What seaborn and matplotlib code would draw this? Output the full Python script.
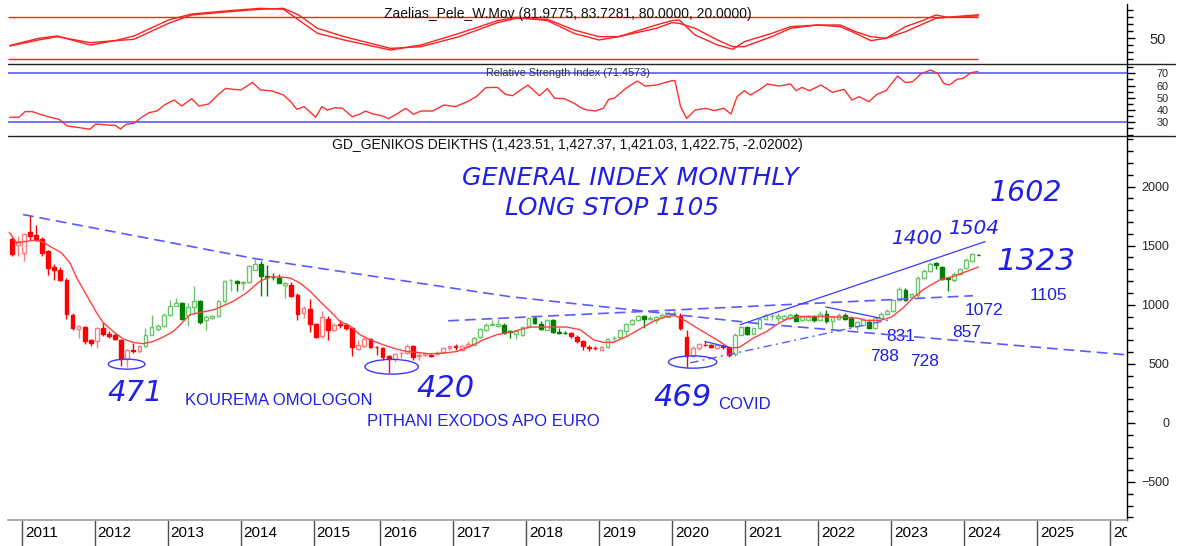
#!/usr/bin/env python3
# -*- coding: utf-8 -*-
"""
ATHEX General Index - monthly candles with oscillator, RSI and hand-drawn trend lines
"""

import numpy as np
import pandas as pd
import matplotlib
matplotlib.use('Agg')
import matplotlib.pyplot as plt
import matplotlib.transforms as mtransforms
from matplotlib.patches import Ellipse
from matplotlib.lines import Line2D
import seaborn as sns

# ---- monthly bars, index 0 = Nov 2010 (no July 2015 bar, exchange was closed) ----
OPEN = [1557, 1508, 1438, 1613, 1593, 1556, 1458, 1319, 1291, 1212, 915, 794, 811, 700, 689, 800,
        754, 745, 703, 540, 615, 605, 647, 745, 795, 820, 915, 992, 1014, 915, 980, 1028,
        867, 887, 907, 1028, 1205, 1203, 1180, 1189, 1297, 1348, 1240, 1236, 1226, 1165, 1170, 1085,
        930, 963, 839, 732, 881, 783, 840, 831, 802, 625, 653, 709, 645, 633, 562, 540,
        590, 590, 653, 570, 575, 575, 585, 596, 630, 650, 620, 650, 661, 726, 790, 832,
        820, 831, 775, 755, 744, 810, 887, 840, 788, 867, 770, 762, 760, 730, 690, 640,
        636, 615, 640, 715, 726, 777, 836, 870, 905, 878, 867, 895, 900, 930, 907, 725,
        562, 630, 660, 660, 635, 650, 633, 584, 746, 815, 754, 802, 879, 905, 890, 880,
        890, 916, 870, 868, 900, 872, 922, 860, 880, 916, 890, 816, 830, 855, 800, 890,
        925, 950, 1040, 1127, 1065, 1085, 1226, 1282, 1350, 1319, 1225, 1206, 1263, 1311, 1367, 1423.51]
HIGH = [1574, 1579, 1608, 1763, 1678, 1570, 1465, 1345, 1320, 1230, 929, 830, 820, 710, 810, 850,
        775, 760, 710, 625, 675, 660, 802, 915, 835, 930, 1042, 1056, 1020, 1014, 1161, 1042,
        915, 915, 1042, 1212, 1215, 1212, 1198, 1339, 1387, 1367, 1339, 1268, 1257, 1190, 1189, 1099,
        986, 1048, 845, 944, 901, 845, 873, 845, 811, 704, 732, 715, 650, 641, 576, 590,
        604, 669, 661, 590, 590, 585, 605, 640, 661, 665, 661, 690, 726, 800, 845, 870,
        875, 845, 787, 790, 820, 895, 905, 860, 877, 877, 800, 775, 768, 746, 703, 657,
        650, 653, 718, 735, 788, 845, 879, 915, 915, 901, 901, 929, 944, 960, 929, 790,
        650, 680, 690, 665, 665, 665, 648, 760, 820, 820, 810, 887, 922, 922, 930, 915,
        930, 930, 908, 910, 916, 950, 957, 900, 930, 930, 901, 860, 875, 880, 895, 935,
        960, 1050, 1150, 1140, 1100, 1240, 1300, 1360, 1360, 1330, 1235, 1275, 1310, 1395, 1440, 1427.37]
LOW = [1410, 1410, 1367, 1551, 1540, 1410, 1254, 1212, 1198, 879, 782, 718, 670, 650, 633, 731,
       718, 700, 483, 471, 590, 595, 640, 740, 780, 815, 905, 985, 867, 816, 929, 839,
       788, 879, 896, 1014, 1113, 1113, 1127, 1184, 1290, 1071, 1071, 1212, 1180, 1058, 1065, 867,
       884, 765, 717, 717, 704, 775, 802, 790, 568, 618, 645, 630, 576, 534, 420, 511,
       550, 585, 534, 534, 565, 560, 575, 590, 620, 620, 610, 640, 655, 718, 775, 825,
       812, 750, 721, 710, 735, 800, 840, 788, 783, 760, 755, 755, 718, 680, 613, 605,
       615, 605, 630, 700, 710, 732, 830, 865, 803, 873, 845, 890, 895, 925, 790, 469,
       555, 620, 650, 630, 628, 625, 557, 570, 740, 745, 750, 795, 870, 870, 850, 870,
       880, 860, 860, 865, 855, 860, 845, 797, 870, 870, 810, 788, 820, 795, 795, 885,
       915, 940, 1030, 1030, 1050, 1060, 1215, 1275, 1300, 1205, 1113, 1195, 1255, 1300, 1360, 1421.03]
CLOSE = [1432, 1536, 1600, 1579, 1551, 1441, 1308, 1291, 1212, 918, 802, 822, 689, 680, 802, 754,
         735, 712, 537, 613, 605, 653, 745, 811, 822, 915, 992, 1014, 879, 980, 1028, 850,
         896, 907, 1028, 1198, 1212, 1184, 1189, 1331, 1348, 1240, 1235, 1232, 1184, 1180, 1071, 924,
         972, 839, 726, 893, 788, 831, 830, 802, 641, 661, 709, 641, 641, 557, 540, 585,
         592, 653, 557, 575, 580, 568, 595, 630, 650, 640, 650, 669, 718, 794, 831, 838,
         840, 760, 770, 775, 810, 887, 845, 794, 867, 766, 762, 758, 731, 690, 647, 635,
         633, 640, 710, 720, 783, 839, 873, 905, 878, 890, 895, 915, 930, 933, 803, 562,
         633, 665, 655, 640, 655, 640, 576, 746, 815, 754, 802, 879, 914, 908, 905, 905,
         916, 865, 900, 900, 868, 922, 865, 893, 916, 880, 816, 857, 870, 800, 890, 925,
         950, 1037, 1133, 1042, 1093, 1226, 1282, 1348, 1340, 1220, 1215, 1263, 1302, 1381, 1432, 1422.75]

# bar ranges that the chart paints green (price above its average), the rest are red
UP_TREND = [(22, 45), (76, 91), (98, 109), (119, 159)]

# red moving average on the price panel
MA_X = [-0.4, 0.8, 2.5, 3.6, 4.9, 6.3, 8.2, 9.6, 10.7, 11.8, 12.9, 14, 15.1, 16.7, 18.4, 20, 21.6,
        23.3, 24.9, 26.6, 28, 29.3, 31, 33.2, 34.3, 36.4, 38.6, 40.8, 42.5, 44.1, 45.8, 47.4, 49.1,
        50.7, 52.4, 54, 55.6, 57.3, 58.9, 61.1, 63.3, 65, 66.6, 68.8, 71, 73.2, 75.4, 77.6, 79.8,
        82.5, 85.2, 88.5, 91.3, 93.5, 95.7, 97.3, 98.9, 101.2, 103.3, 105.5, 107.7, 109.1, 111,
        113.2, 116, 118.1, 119.7, 122, 124.2, 125.8, 127.5, 129.7, 133.5, 136.2, 139, 140.6,
        142.8, 144.7, 146.6, 148.2, 149.9, 151.3, 152.7, 154.9, 157.1, 159]
MA_Y = [1613, 1523, 1537, 1545, 1537, 1494, 1438, 1353, 1226, 1127, 1028, 929, 845, 774, 709, 681, 670,
        689, 726, 774, 845, 915, 935, 957, 980, 1028, 1099, 1198, 1235, 1235, 1226, 1184, 1113,
        1028, 944, 859, 822, 746, 704, 661, 624, 604, 596, 585, 590, 604, 647, 704, 746,
        774, 811, 811, 811, 788, 703, 681, 681, 732, 794, 859, 901, 907, 859,
        788, 703, 632, 640, 718, 774, 831, 879, 901, 901, 895, 887, 867,
        867, 895, 972, 1056, 1127, 1170, 1212, 1240, 1282, 1319]

# Zaelias_Pele_W.Mov oscillator (two lines)
OSC_X = [-0.3, 4.4, 7.5, 12.9, 17, 20.1, 25.8, 29.6, 35.8, 40.9, 44.7, 47.2, 50.3, 54.7, 62.3, 67.3,
         73.6, 79.9, 83, 88.1, 92.5, 96.6, 99.8, 106, 108.6, 109.8, 112.4, 116.1, 118.6, 120.5, 125,
         128.1, 132.5, 136.3, 138.8, 141.3, 143.8, 147, 150.1, 152, 153.9, 159]
OSC_FAST = [39.4, 49.7, 53.1, 40.1, 46.4, 53.1, 76.1, 84.7, 89.5, 92.9, 91.5, 76.1, 56.9, 47.3, 32.9, 40.1,
            56.9, 75.2, 80, 75.2, 56.9, 47.3, 52.1, 68.9, 75.2, 76.1, 54.5, 40.1, 33.9, 44.9, 56.9,
            66.5, 68.9, 66.5, 56.9, 46.4, 49.7, 66.5, 76.1, 83.3, 80, 83.7]
OSC_SLOW = [38.7, 47.3, 52.1, 43.5, 46.4, 48.3, 71.3, 83.3, 88.1, 91.5, 92.9, 83.3, 64.1, 52.1, 35.3, 37.7,
            52.1, 72.3, 78.5, 77.1, 61.7, 52.1, 52.1, 64.1, 72.3, 71.3, 64.1, 47.3, 37.7, 37.7, 52.1,
            64.1, 68.9, 68.9, 59.3, 52.1, 49.7, 59.3, 71.3, 78.5, 80, 82.0]

# Relative Strength Index
RSI_X = [-0.35, 1.2, 2.2, 3.4, 5.0, 6.3, 7.8, 9.1, 10.7, 12.9, 13.8, 15.7, 17, 17.9, 18.8, 20.1, 21.4,
         22.6, 23.9, 25.1, 26.7, 28, 29.6, 30.8, 32.4, 33.9, 35.2, 36.5, 37.7, 39.6, 40.9, 42.8, 44.7,
         45.9, 46.9, 48.1, 50, 51, 51.9, 53.2, 54.4, 56, 57.2, 58.2, 59.4, 61, 62, 63.5, 64.8, 66.1,
         67.3, 69.2, 71.1, 73, 74.9, 76.4, 78, 79.9, 81.2, 82.4, 83.7, 84.9, 86.8, 88.1, 89.3, 90.9,
         92.5, 93.8, 94.7, 96, 97.3, 98.2, 99.1, 101, 102.9, 104.2, 106, 108.6, 109.1, 110, 111,
         112.4, 114.2, 115.5, 117.1, 118.3, 119.3, 120.5, 121.5, 123.1, 124.3, 126.2, 128.1, 129,
         130, 131.2, 133.1, 135, 136.9, 138.2, 139.4, 141, 142.3, 143.8, 145.7, 147, 148.2, 149.5,
         151.1, 152.3, 153.3, 154.2, 155.5, 156.5, 157.8, 158.9]
RSI_Y = [34.1, 34.1, 38.7, 38.7, 36.0, 34.1, 32.4, 27.0, 25.9, 24.3, 28.6, 27.8, 27.5, 24.5, 28.3, 29.2, 34.1,
         37.9, 39.2, 44.1, 48.2, 43.3, 49.3, 43.3, 44.9, 52.3, 57.7, 56.9, 56.4, 62.6, 56.4, 55.6, 52.3,
         46.8, 40.6, 42.8, 34.1, 42.8, 40.0, 41.9, 41.4, 34.6, 36.5, 39.2, 36.8, 35.1, 33.0, 37.3, 41.4, 36.5,
         39.2, 39.2, 44.1, 42.8, 46.8, 50.9, 58.3, 58.5, 52.8, 51.7, 56.4, 60.4, 51.7, 57.5, 49.6, 49.3,
         45.5, 41.4, 40.0, 39.2, 41.4, 48.8, 49.6, 57.7, 63.7, 59.6, 60.4, 64.0, 64.0, 43.0, 33.2,
         40.0, 41.4, 39.5, 41.4, 36.8, 50.9, 55.8, 52.3, 56.9, 61.3, 59.6, 61.3, 55.8,
         58.5, 55.8, 60.4, 54.5, 56.9, 48.2, 50.9, 46.8, 52.8, 55.8, 67.8, 62.4, 63.2, 69.4,
         72.7, 70.0, 61.8, 60.4, 65.1, 65.9, 70.5, 71.5]

# hand-drawn lines on the price panel
DOWN_X = [1.86, 40, 81.95, 123.1, 183.4]
DOWN_Y = [1763, 1390, 1068, 839, 576]
FLAT_X = [71.8, 158.1]
FLAT_Y = [864, 1076]
RISE_X = [119.8, 160.1]
RISE_Y = [831, 1534]
DASHDOT_X = [111.6, 144.4]
DASHDOT_Y = [508, 873]
WEDGE20_X = [114, 118.4]
WEDGE20_Y = [689, 633]
WEDGE22_X = [133.9, 142.8]
WEDGE22_Y = [981, 887]

YEAR_LABELS = ['2011', '2012', '2013', '2014', '2015', '2016', '2017', '2018', '2019',
               '2020', '2021', '2022', '2023', '2024', '2025', '2026']
YEAR_START = [2, 14, 26, 38, 50, 61, 73, 85, 97, 109, 121, 133, 145, 157, 169, 181]

BLUE = '#1f1fe8'
LINE_BLUE = '#5a5aff'

sns.set_theme(style='white')
plt.rcParams['font.family'] = ['Liberation Sans', 'DejaVu Sans']
HAND = dict(family=['DejaVu Sans'], style='oblique', weight='normal', color=BLUE)

W, H = 1180, 546
fig = plt.figure(figsize=(W / 100, H / 100), dpi=100)
fig.patch.set_facecolor('white')


def px_axes(x0, y0, x1, y1):
    return fig.add_axes([x0 / W, 1 - y1 / H, (x1 - x0) / W, (y1 - y0) / H])


ax_osc = px_axes(8, 4, 1127, 64)
ax_rsi = px_axes(8, 64, 1127, 135.5)
ax = px_axes(8, 135.5, 1127, 520)

XMIN, XMAX = -0.61, 183.44
for a in (ax_osc, ax_rsi, ax):
    a.set_xlim(XMIN, XMAX)
    a.set_facecolor('white')
    for s in ('left', 'top', 'bottom'):
        a.spines[s].set_visible(False)
    a.spines['right'].set_visible(True)
    a.spines['right'].set_color('black')
    a.spines['right'].set_linewidth(1)
    a.yaxis.tick_right()
    a.grid(False)

# ---------------- oscillator panel ----------------
ax_osc.set_ylim(12.8, 99.1)
osc = pd.DataFrame({'x': OSC_X, 'fast': OSC_FAST, 'slow': OSC_SLOW})
sns.lineplot(data=osc, x='x', y='fast', ax=ax_osc, color='#ff2020', lw=1, legend=False)
sns.lineplot(data=osc, x='x', y='slow', ax=ax_osc, color='#ff2020', lw=1, legend=False)
ax_osc.hlines([80, 20], XMIN, OSC_X[-1], color='#ff2020', lw=1)
ax_osc.set_yticks([50])
ax_osc.set_yticks(np.arange(20, 100, 10), minor=True)
ax_osc.text(0.5, 0.835, 'Zaelias_Pele_W.Mov (81.9775, 83.7281, 80.0000, 20.0000)',
            transform=ax_osc.transAxes, ha='center', va='center', fontsize=10, color='#111111')

# ---------------- RSI panel ----------------
ax_rsi.set_ylim(19.2, 77.6)
rsi = pd.DataFrame({'x': RSI_X, 'rsi': RSI_Y})
ax_rsi.axhline(70, color=LINE_BLUE, lw=1.2)
ax_rsi.axhline(30, color=LINE_BLUE, lw=1.2)
sns.lineplot(data=rsi, x='x', y='rsi', ax=ax_rsi, color='#ff3030', lw=1, legend=False)
ax_rsi.set_yticks([30, 40, 50, 60, 70])
ax_rsi.set_yticks(np.arange(20, 80, 5), minor=True)
ax_rsi.text(0.5, 0.874, 'Relative Strength Index (71.4573)', transform=ax_rsi.transAxes,
            ha='center', va='center', fontsize=7.8, color='#333333')

# ---------------- price panel ----------------
ax.set_ylim(-822, 2432)
green = np.zeros(len(CLOSE), dtype=bool)
for a0, a1 in UP_TREND:
    green[a0:a1 + 1] = True

o = np.array(OPEN, dtype=float)
c = np.array(CLOSE, dtype=float)
hi = np.array(HIGH, dtype=float)
lo = np.array(LOW, dtype=float)
xi = np.arange(len(c))
rising = c >= o
top = np.maximum(o, c)
bot = np.minimum(o, c)

for i in xi:
    if green[i]:
        col = '#6cc46c' if rising[i] else '#008000'
    else:
        col = '#ff7b7b' if rising[i] else '#ff0000'
    ax.vlines(i, lo[i], bot[i], color=col, lw=1, zorder=3)
    ax.vlines(i, top[i], hi[i], color=col, lw=1, zorder=3)
    ax.bar(i, top[i] - bot[i], bottom=bot[i], width=0.62,
           facecolor='white' if rising[i] else col, edgecolor=col, lw=1, zorder=3)

ma = pd.DataFrame({'x': MA_X, 'ma': MA_Y})
sns.lineplot(data=ma, x='x', y='ma', ax=ax, color='#ff4040', lw=1, legend=False, zorder=4)

dash = (0, (6.5, 3.5))
ax.plot(DOWN_X, DOWN_Y, color=LINE_BLUE, lw=1.2, ls=dash, zorder=5)
ax.plot(FLAT_X, FLAT_Y, color=LINE_BLUE, lw=1.2, ls=dash, zorder=5)
ax.plot(RISE_X, RISE_Y, color='#3a3aff', lw=0.9, zorder=5)
ax.plot(DASHDOT_X, DASHDOT_Y, color=LINE_BLUE, lw=1.0, ls=(0, (6, 3, 1.5, 3)), zorder=5)
ax.plot(WEDGE20_X, WEDGE20_Y, color='#3a3aff', lw=0.9, zorder=5)
ax.plot(WEDGE22_X, WEDGE22_Y, color='#3a3aff', lw=0.9, zorder=5)

for cx, cy, ew, eh in [(18.9, 497, 6.03, 85), (62.5, 475, 8.77, 125), (112, 515, 7.94, 104)]:
    ax.add_patch(Ellipse((cx, cy), ew, eh, fill=False, edgecolor='#3a3aff', lw=1, zorder=6))

ax.set_yticks(np.arange(-500, 2001, 500))
ax.set_yticks(np.arange(-800, 2401, 100), minor=True)
ax.text(0.5, 0.974, 'GD_GENIKOS DEIKTHS (1,423.51, 1,427.37, 1,421.03, 1,422.75, -2.02002)',
        transform=ax.transAxes, ha='center', va='center', fontsize=10, color='#111111')

# handwritten notes
ax.text(74.1, 2076, 'GENERAL INDEX MONTHLY', fontsize=18.2, ha='left', va='center', **HAND)
ax.text(81.1, 1822, 'LONG STOP 1105', fontsize=17.8, ha='left', va='center', **HAND)
ax.text(160.9, 1949, '1602', fontsize=20.5, ha='left', va='center', **HAND)
ax.text(144.6, 1559, '1400', fontsize=14.5, ha='left', va='center', **HAND)
ax.text(154.0, 1644, '1504', fontsize=14.5, ha='left', va='center', **HAND)
ax.text(161.9, 1364, '1323', fontsize=22.4, ha='left', va='center', **HAND)
ax.text(15.7, 254, '471', fontsize=21, ha='left', va='center', **HAND)
ax.text(66.5, 288, '420', fontsize=22, ha='left', va='center', **HAND)
ax.text(105.5, 212, '469', fontsize=22, ha='left', va='center', **HAND)

# typed notes
for tx, ty, s in [(167.5, 1076, '1105'), (156.8, 949, '1072'), (154.7, 763, '857'),
                  (143.8, 729, '831'), (141.2, 559, '788'), (147.7, 517, '728')]:
    ax.text(tx, ty, s, fontsize=12.5, color=BLUE, ha='left', va='center')
ax.text(28.5, 186, 'KOUREMA OMOLOGON', fontsize=12, color=BLUE, ha='left', va='center')
ax.text(58.4, 8, 'PITHANI EXODOS APO EURO', fontsize=12, color=BLUE, ha='left', va='center')
ax.text(116.2, 153, 'COVID', fontsize=12, color=BLUE, ha='left', va='center')

# ---------------- tick styling ----------------
for a, size, pad in ((ax_osc, 10.5, 22), (ax_rsi, 7.8, 24), (ax, 9, 24.5)):
    a.tick_params(axis='y', which='major', direction='out', length=6, width=1, color='black',
                  labelsize=size, pad=pad, right=True, left=False, labelright=True, labelleft=False)
    a.tick_params(axis='y', which='minor', direction='out', length=4, width=1, color='black',
                  right=True, left=False)
    for lab in a.get_yticklabels():
        lab.set_horizontalalignment('right')
    a.set_xlabel('')
    a.set_ylabel('')

for a in (ax_osc, ax_rsi):
    a.set_xticks([])

# year dividers below the price panel
ax.spines['bottom'].set_visible(True)
ax.spines['bottom'].set_color('#a0a0a0')
div = np.array(YEAR_START) - 0.35
ax.set_xticks(div)
ax.set_xticklabels([])
ax.tick_params(axis='x', which='major', direction='out', length=18.7, width=1, color='#505050',
               bottom=True)
clip = mtransforms.TransformedBbox(mtransforms.Bbox([[0, -1], [1, 0]]), ax.transAxes)
blend = mtransforms.blended_transform_factory(ax.transData, ax.transAxes)
for d, lab in zip(div, YEAR_LABELS):
    t = ax.text(d + 0.5, -0.034, lab, transform=blend, ha='left', va='center',
                fontsize=11, color='black', clip_on=True)
    t.set_clip_box(clip)

# panel separators
for yy in (64, 135.5):
    fig.add_artist(Line2D([8 / W, 1175 / W], [1 - yy / H, 1 - yy / H], transform=fig.transFigure,
                          color='#222222', lw=1))

fig.savefig('out.png', dpi=100, facecolor='white')
